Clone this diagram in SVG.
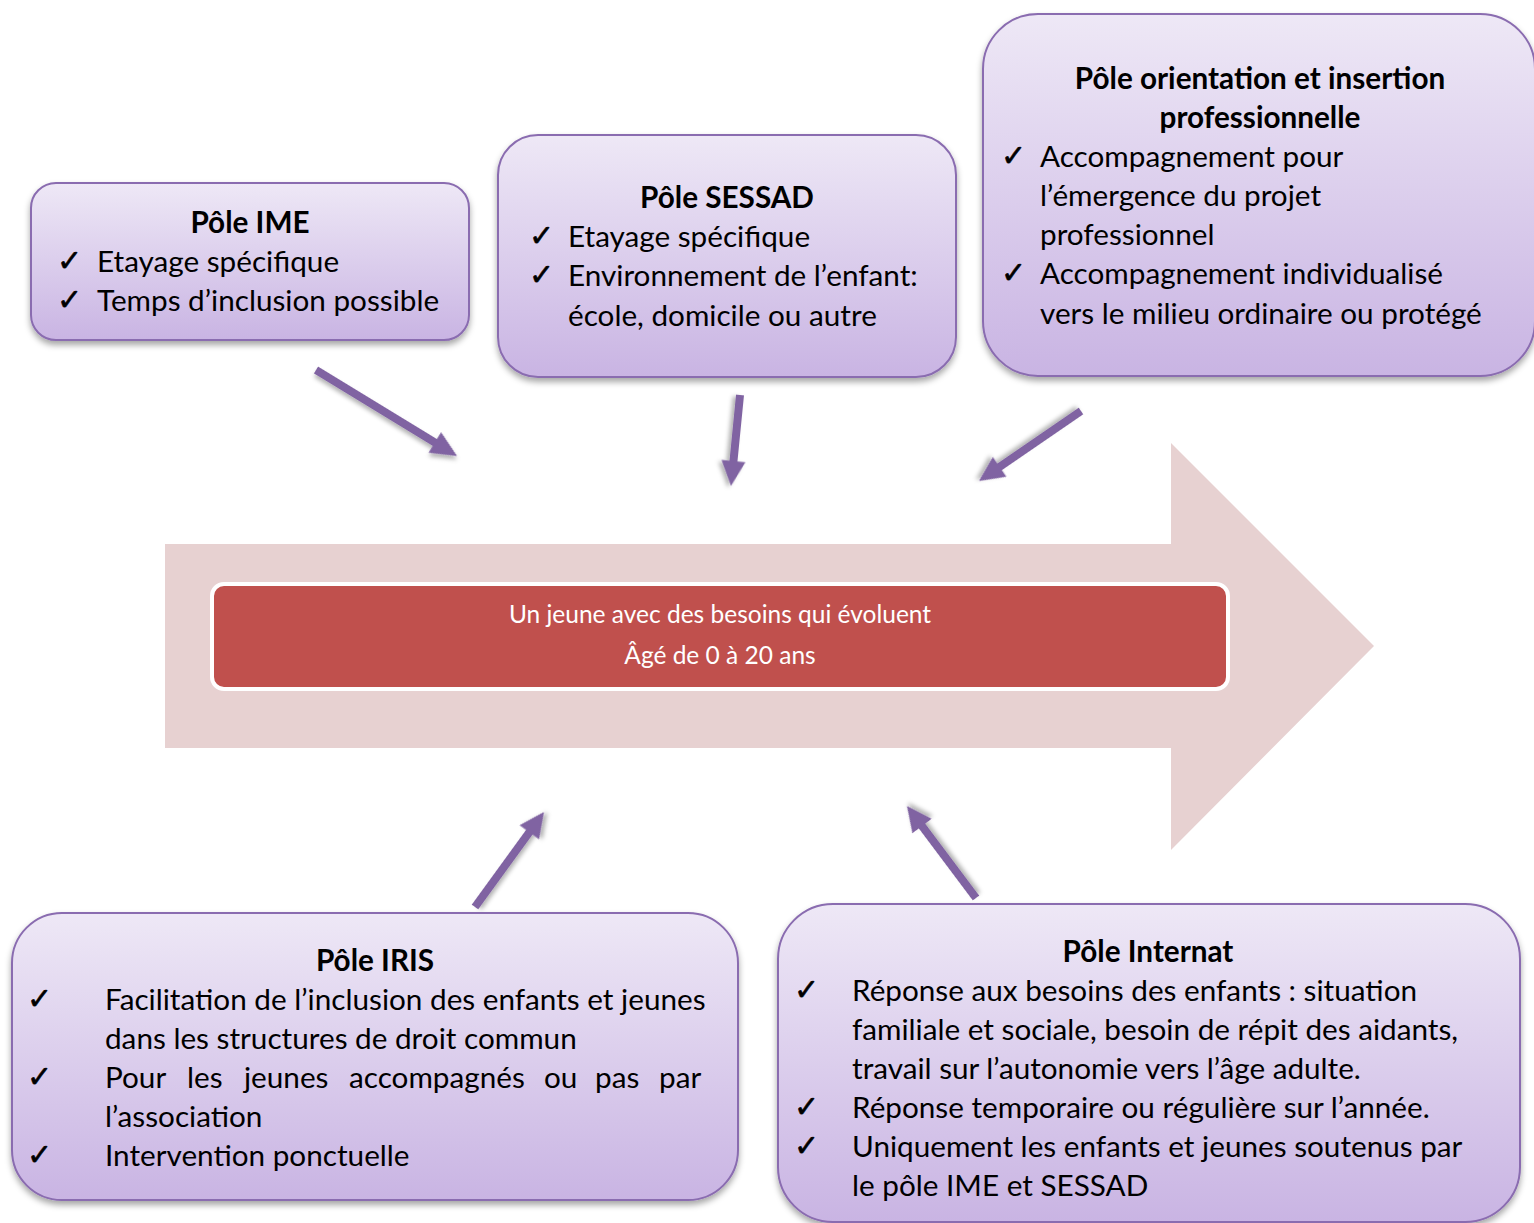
<svg xmlns="http://www.w3.org/2000/svg" width="1534" height="1223" viewBox="0 0 1534 1223">
<defs>
<linearGradient id="boxg" x1="0" y1="0" x2="0" y2="1">
<stop offset="0" stop-color="#eee8f6"/>
<stop offset="1" stop-color="#c9b4e3"/>
</linearGradient>
<filter id="sh" x="-10%" y="-10%" width="120%" height="130%">
<feDropShadow dx="0" dy="4" stdDeviation="3" flood-color="#000" flood-opacity="0.35"/>
</filter>
<filter id="ash" x="-30%" y="-30%" width="160%" height="160%">
<feDropShadow dx="2" dy="3" stdDeviation="2" flood-color="#000" flood-opacity="0.3"/>
</filter>
</defs>
<style>
.box{fill:url(#boxg);stroke:#8a6cb0;stroke-width:2;filter:url(#sh)}
.t{font-family:Lato,"Liberation Sans",sans-serif;font-size:29.7px;fill:#000}
.b{font-weight:bold;text-anchor:middle}
.ck{font-family:"DejaVu Sans",sans-serif;font-size:30px;fill:#000;stroke:#000;stroke-width:0.6}
.conn{fill:#8064a2;filter:url(#ash)}
.w{font-family:Lato,"Liberation Sans",sans-serif;font-size:24.5px;fill:#fff;text-anchor:middle}
</style>

<g id="bigarrow">
<path d="M165,544 H1171 V443 L1374,646 L1171,850 V748 H165 Z" fill="#e7d1d1"/>
</g>

<g id="center">
<rect x="212" y="584" width="1016" height="105" rx="12" fill="#c0504d" stroke="#fff" stroke-width="4"/>
<text class="w" x="720" y="623">Un jeune avec des besoins qui évoluent</text>
<text class="w" x="720" y="664">Âgé de 0 à 20 ans</text>
</g>

<g id="connectors">
<path class="conn" transform="translate(316,370) rotate(31.38)" d="M0,-4 H139.2 V-12 L165.2,0 L139.2,12 V4 H0 Z"/>
<path class="conn" transform="translate(740,395) rotate(95.65)" d="M0,-4 H66.4 V-12 L91.4,0 L66.4,12 V4 H0 Z"/>
<path class="conn" transform="translate(1081,411) rotate(145.54)" d="M0,-4 H98.7 V-12 L123.7,0 L98.7,12 V4 H0 Z"/>
<path class="conn" transform="translate(475,907) rotate(-54)" d="M0,-4 H92.4 V-12 L117.4,0 L92.4,12 V4 H0 Z"/>
<path class="conn" transform="translate(976,898) rotate(-126.87)" d="M0,-4 H90 V-12 L115,0 L90,12 V4 H0 Z"/>
</g>

<g id="ime">
<rect class="box" x="31" y="183" width="438" height="157" rx="25"/>
<text class="t b" x="250" y="233">Pôle IME</text>
<text class="ck" x="57" y="271">✓</text>
<text class="t" x="97" y="272">Etayage spécifique</text>
<text class="ck" x="57" y="310">✓</text>
<text class="t" x="97" y="311">Temps d’inclusion possible</text>
</g>

<g id="sessad">
<rect class="box" x="498" y="135" width="458" height="242" rx="40"/>
<text class="t b" x="727" y="208">Pôle SESSAD</text>
<text class="ck" x="529" y="246">✓</text>
<text class="t" x="568" y="247">Etayage spécifique</text>
<text class="ck" x="529" y="285">✓</text>
<text class="t" x="568" y="286">Environnement de l’enfant:</text>
<text class="t" x="568" y="326">école, domicile ou autre</text>
</g>

<g id="orientation">
<rect class="box" x="983" y="14" width="552" height="362" rx="55"/>
<text class="t b" x="1260" y="89">Pôle orientation et insertion</text>
<text class="t b" x="1260" y="128">professionnelle</text>
<text class="ck" x="1001" y="166">✓</text>
<text class="t" x="1040" y="167">Accompagnement pour</text>
<text class="t" x="1040" y="206">l’émergence du projet</text>
<text class="t" x="1040" y="245">professionnel</text>
<text class="ck" x="1001" y="283">✓</text>
<text class="t" x="1040" y="284">Accompagnement individualisé</text>
<text class="t" x="1040" y="324">vers le milieu ordinaire ou protégé</text>
</g>

<g id="iris">
<rect class="box" x="12" y="913" width="726" height="287" rx="50"/>
<text class="t b" x="375" y="971">Pôle IRIS</text>
<text class="ck" x="27" y="1009">✓</text>
<text class="t" x="105" y="1010">Facilitation de l’inclusion des enfants et jeunes</text>
<text class="t" x="105" y="1049">dans les structures de droit commun</text>
<text class="ck" x="27" y="1087">✓</text>
<text class="t" y="1088"><tspan x="105">Pour </tspan><tspan x="187">les </tspan><tspan x="244">jeunes </tspan><tspan x="349">accompagnés </tspan><tspan x="544">ou </tspan><tspan x="595">pas </tspan><tspan x="659">par</tspan></text>
<text class="t" x="105" y="1127">l’association</text>
<text class="ck" x="27" y="1165">✓</text>
<text class="t" x="105" y="1166">Intervention ponctuelle</text>
</g>

<g id="internat">
<rect class="box" x="778" y="904" width="742" height="318" rx="55"/>
<text class="t b" x="1148" y="962">Pôle Internat</text>
<text class="ck" x="794" y="1000">✓</text>
<text class="t" x="852" y="1001">Réponse aux besoins des enfants : situation</text>
<text class="t" x="852" y="1040">familiale et sociale, besoin de répit des aidants,</text>
<text class="t" x="852" y="1079">travail sur l’autonomie vers l’âge adulte.</text>
<text class="ck" x="794" y="1117">✓</text>
<text class="t" x="852" y="1118">Réponse temporaire ou régulière sur l’année.</text>
<text class="ck" x="794" y="1156">✓</text>
<text class="t" x="852" y="1157">Uniquement les enfants et jeunes soutenus par</text>
<text class="t" x="852" y="1196">le pôle IME et SESSAD</text>
</g>
</svg>
